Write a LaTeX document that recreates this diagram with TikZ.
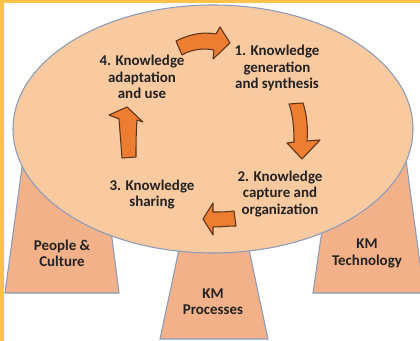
\documentclass[tikz,border=0pt]{standalone}
\usepackage{fontspec}
\setmainfont{Carlito}
\usepackage{tikz}

\definecolor{framegold}{HTML}{FFC14A}
\definecolor{platefill}{HTML}{F9C9A0}
\definecolor{legfill}{HTML}{F2B189}
\definecolor{edgeblue}{HTML}{8A9BBC}
\definecolor{arroworange}{HTML}{ED7D31}
\definecolor{arrowedge}{HTML}{5E3418}
\definecolor{labeltext}{HTML}{222222}

\tikzset{
  leg/.style={fill=legfill, draw=edgeblue, line width=0.8pt},
  blockarrow/.style={fill=arroworange, draw=arrowedge, line width=0.8pt, line join=round},
  stage/.style={align=center, text=labeltext, font=\fontsize{11.2}{12.4}\selectfont\bfseries, inner sep=0pt}
}

\begin{document}
\begin{tikzpicture}[x=0.75pt,y=-0.75pt]
 \useasboundingbox (0,0) rectangle (420,341);
 \clip (0,0) rectangle (420,341);

 % Frame on top and left
 \fill[framegold] (0,0) rectangle (420,3);
 \fill[framegold] (0,0) rectangle (4,341);

 % Legs of the table (drawn first, the plate covers their tops)
 \draw[leg] (23,160) -- (102,160) -- (119,293) -- (5,293) -- cycle; % People & Culture
 \draw[leg] (181,240) -- (247,240) -- (268,339) -- (160,339) -- cycle; % KM Processes
 \draw[leg] (332,160) -- (406,160) -- (424,293) -- (313,293) -- cycle; % KM Technology

 % Table plate
 \draw[fill=platefill, draw=edgeblue, line width=0.8pt] (213,129) ellipse [x radius=200, y radius=124];

 % Cycle arrows
 \draw[blockarrow] (176,41) .. controls (192,33) and (205,32) .. (216,34) -- (220,27) -- (230,43)
   -- (213,59) -- (214,50) .. controls (204,48) and (192,49) .. (182,55) -- cycle; % 4 -> 1
 \draw[blockarrow] (289,104) -- (303,103) .. controls (307,115) and (308,128) .. (307,141) -- (320,140)
   -- (302,159) -- (287,143) -- (294,142) .. controls (294,128) and (293,115) .. (289,104) -- cycle; % 1 -> 2
 \draw[blockarrow] (234,211) .. controls (227,212) and (220,212) .. (213,212) -- (213,203) -- (203,219)
   -- (213,235) -- (213,227) .. controls (220,227) and (228,226) .. (236,226) -- cycle; % 2 -> 3
 \draw[blockarrow] (122,158) .. controls (121,145) and (120,132) .. (119,119) -- (109,115) -- (127,107)
   -- (143,122) -- (137,120) .. controls (136,133) and (136,146) .. (136,157) -- cycle; % 3 -> 4

 % Stages
 \node[stage] (gen) at (277,68) {1. Knowledge\\generation\\and synthesis};
 \node[stage] (cap) at (280,194) {2. Knowledge\\capture and\\organization};
 \node[stage] (shr) at (152,194.5) {3. Knowledge\\sharing};
 \node[stage] (ada) at (142,77) {4. Knowledge\\adaptation\\and use};

 % Legs labels
 \node[stage] (ppl) at (62,253.5) {People \&\\Culture};
 \node[stage] (prc) at (213,301.5) {KM\\Processes};
 \node[stage] (tec) at (367,253.5) {KM\\Technology};

\end{tikzpicture}
\end{document}
